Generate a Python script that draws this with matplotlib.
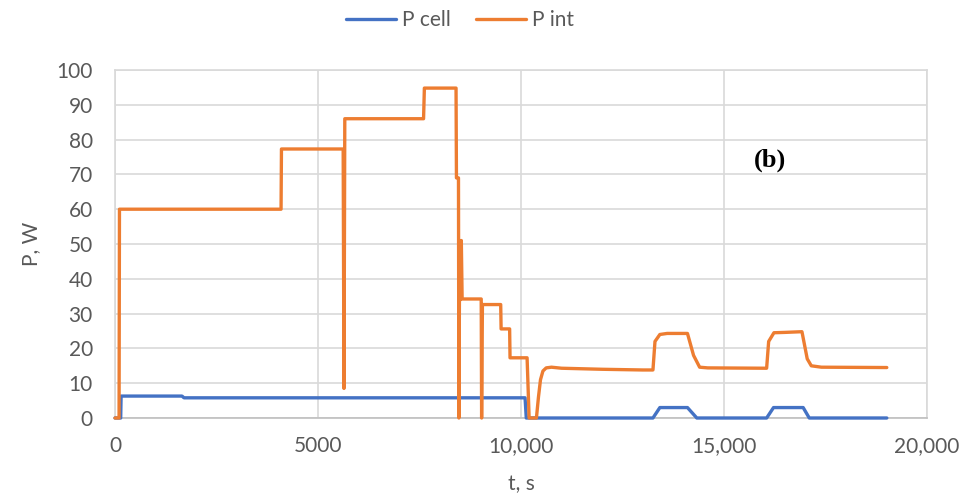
import matplotlib
matplotlib.use("Agg")
import matplotlib.pyplot as plt
from matplotlib.ticker import FixedLocator, FixedFormatter

plt.rcParams["font.family"] = ["Lato", "DejaVu Sans"]

# P cell, W
t_cell = [0, 140, 150, 1650, 1700, 10100, 10130, 13250, 13420, 14100, 14330,
          16050, 16220, 16950, 17100, 19010]
p_cell = [0, 0, 6.3, 6.3, 5.8, 5.8, 0, 0, 3, 3, 0,
          0, 3, 3, 0, 0]

# P int, W
t_int = [0, 100, 110, 4090, 4100, 5620, 5640, 5660, 7600, 7620, 8400, 8410,
         8460, 8470, 8490, 8510, 8530, 8550, 9020, 9030, 9050, 9500, 9510,
         9720, 9730, 10150, 10200, 10380, 10430, 10480, 10540, 10620, 10750,
         11000, 12000, 13000, 13250, 13300, 13420, 13600, 14100, 14250, 14400,
         14600, 16050, 16100, 16230, 16500, 16920, 17050, 17150, 17400, 19010]
p_int = [0, 0, 60, 60, 77.3, 77.3, 8.5, 86, 86, 94.8, 94.8, 69,
         69, 0, 51, 34, 51, 34.2, 34.2, 0, 32.6, 32.6, 25.6,
         25.6, 17.3, 17.3, 0, 0, 6, 11, 13.5, 14.4, 14.6,
         14.3, 14.0, 13.8, 13.8, 22, 24, 24.3, 24.3, 18, 14.6,
         14.4, 14.3, 22, 24.5, 24.6, 24.8, 17, 15, 14.6, 14.5]

x_ticks = [0, 5000, 10000, 15000, 20000]
x_labels = ["0", "5000", "10,000", "15,000", "20,000"]
y_ticks = list(range(0, 101, 10))

grey = "#595959"

fig = plt.figure(figsize=(9.67, 4.97), dpi=100)
ax = fig.add_axes([115 / 967, 79 / 497, 812 / 967, 348 / 497])

ax.plot(t_cell, p_cell, color="#4472C4", lw=2.4, label="P cell", zorder=3,
        solid_joinstyle="round", solid_capstyle="round", clip_on=False)
ax.plot(t_int, p_int, color="#ED7D31", lw=2.4, label="P int", zorder=3,
        solid_joinstyle="round", solid_capstyle="round", clip_on=False)

ax.set_xlim(0, 20000)
ax.set_ylim(0, 100)
ax.xaxis.set_major_locator(FixedLocator(x_ticks))
ax.xaxis.set_major_formatter(FixedFormatter(x_labels))
ax.set_yticks(y_ticks)
ax.grid(True, color="#d9d9d9", lw=1.2)
ax.set_axisbelow(True)
for s in ax.spines.values():
    s.set_color("#d9d9d9")
    s.set_linewidth(1.2)
ax.spines["bottom"].set_color("#bfbfbf")
ax.tick_params(length=0, labelsize=15, colors=grey)
ax.tick_params(axis="y", pad=16)
ax.tick_params(axis="x", pad=13)

ax.set_xlabel("t, s", fontsize=15, color=grey, labelpad=13)
ax.set_ylabel("P, W", fontsize=15, color=grey, labelpad=11)

ax.text(16130, 74, "(b)", fontsize=19, fontweight="bold",
        family="Liberation Serif", ha="center", va="center", color="black")

fig.legend(loc="center", bbox_to_anchor=(460 / 967, 1 - 20 / 497), ncol=2,
           frameon=False, fontsize=15, labelcolor=grey, handlelength=2.4,
           columnspacing=1.2, handletextpad=0.3)

fig.savefig("out.png", dpi=100)
